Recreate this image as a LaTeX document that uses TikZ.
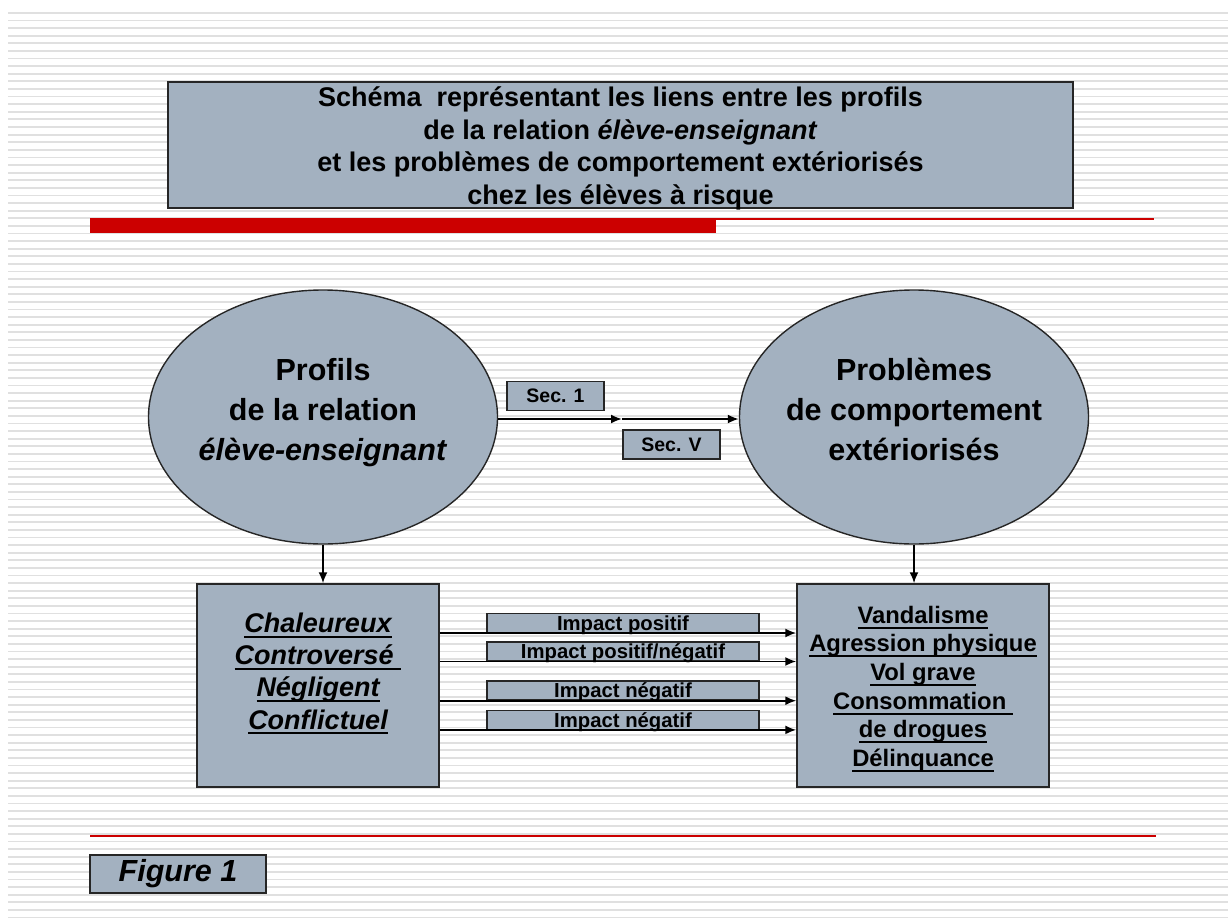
\documentclass[tikz,border=0pt]{standalone}
\usepackage{fontspec}
\setmainfont{Liberation Sans}
\usetikzlibrary{shapes.geometric,arrows.meta}
\definecolor{boxfill}{RGB}{163,177,192}
\definecolor{barred}{RGB}{204,0,0}
\definecolor{stripegray}{RGB}{224,224,224}
\newcommand{\fs}[2]{\fontsize{#1}{#2}\selectfont}
\newcommand{\uln}[1]{\setbox0\hbox{#1}\leavevmode\rlap{\vrule height -3.4pt depth 5.4pt width \wd0}\box0}

\tikzset{
  slidebox/.style={draw=black!85, line width=1.4, fill=boxfill, inner sep=0},
  blob/.style={slidebox, ellipse, minimum width=349, minimum height=254},
  blobtext/.style={align=center, font=\fs{30.5}{40}\bfseries},
  tag/.style={slidebox, font=\fs{19.5}{20}\bfseries},
  impact/.style={tag, minimum width=272, minimum height=19, text height=14.6pt, text depth=0pt, font=\fs{20.3}{20}\bfseries},
  link/.style={line width=1.9, -{Latex[length=11,width=9]}},
  stripe/.style={stripegray, line width=1.8},
}

\begin{document}
\begin{tikzpicture}[x=1pt,y=-1pt]
    \useasboundingbox (0,0) rectangle (1228,923);

    % Background
    \foreach \i in {0,...,119}
        \draw[stripe] (8,{13+7.6*\i}) -- (1228,{13+7.6*\i});

    % Title
    \node[slidebox, minimum width=905, minimum height=126] (title) at (620.5,145) {};
    \node[align=center, font=\fs{27}{32.7}\bfseries] (titletext) at (620.5,148.5)
        {Schéma~ représentant les liens entre les profils\\de la relation \textit{élève-enseignant}\\et les problèmes de comportement extériorisés\\chez les élèves à risque};
    \fill[barred] (90,218) rectangle (716,233);
    \draw[barred, line width=2] (716,219) -- (1154,219);

    % Ellipses
    \node[blob] (profils) at (323,417) {};
    \node[blobtext] (profilstext) at (323,413) {Profils\\de la relation\\\textit{élève-enseignant}};
    \node[blob] (problemes) at (914,417) {};
    \node[blobtext] (problemestext) at (914,413) {Problèmes\\de comportement\\extériorisés\vphantom{g}};

        %sec
        \coordinate (mid) at (622,419);
        \draw[link] (profils.east |- mid) -- (mid);
        \draw[link] (mid) -- (problemes.west |- mid);
        \node[tag, minimum width=97, minimum height=29] (sec1) at (555.5,396) {Sec. 1};
        \node[tag, minimum width=97, minimum height=29] (sec5) at (671.5,444.5) {Sec. V};

    % Boxes
    \node[slidebox, minimum width=242, minimum height=203] (types) at (318,685.5) {};
    \node[align=center, font=\fs{27}{32.3}\bfseries\itshape] (typestext) at (318,673.5)
        {\uln{Chaleureux}\\\uln{Controversé }\\\uln{Négligent}\\\uln{Conflictuel}};
    \node[slidebox, minimum width=252, minimum height=203] (effets) at (923,685.5) {};
    \node[align=center, font=\fs{23.8}{28.7}\bfseries] (effetstext) at (923,689)
        {\uln{Vandalisme}\\\uln{Agression physique}\\\uln{Vol grave}\\\uln{Consommation }\\\uln{de drogues}\\\uln{Délinquance}};
    \draw[link] (profils.south) -- (profils.south |- types.north);
    \draw[link] (problemes.south) -- (problemes.south |- effets.north);

    % Impacts
    \node[impact] (imp1) at (623,622.8) {Impact positif};
    \node[impact] (imp2) at (623,651.3) {Impact positif/négatif};
    \node[impact] (imp3) at (623,690.5) {Impact négatif};
    \node[impact] (imp4) at (623,719.7) {Impact négatif};
    \foreach \k in {imp1,imp2,imp3,imp4}
        \draw[link] (types.east |- \k.south) -- (effets.west |- \k.south);

    % Footer
    \draw[barred, line width=1.2] (90,836) -- (1156,836);
    \node[slidebox, minimum width=176, minimum height=38, font=\fs{30.5}{30}\bfseries\itshape] (fig) at (178,874) {Figure 1};
\end{tikzpicture}
\end{document}
